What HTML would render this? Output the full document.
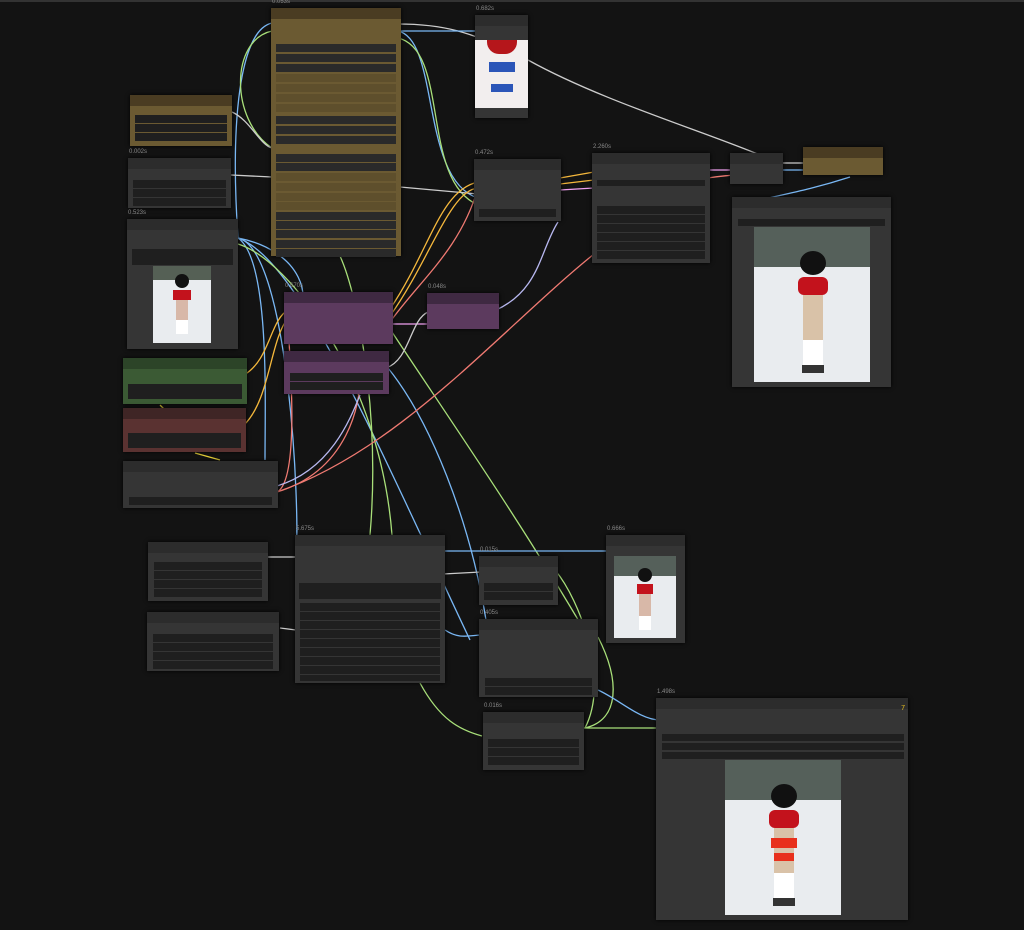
<!DOCTYPE html>
<html><head><meta charset="utf-8"><style>
body{margin:0;width:1024px;height:930px;background:#131313;position:relative;overflow:hidden;font-family:"Liberation Sans",sans-serif}
.n{position:absolute;background:#353535;box-shadow:0 0 4px #000}
.h{position:absolute;left:0;right:0;top:0;height:11px;background:#2c2c2c}
.t{position:absolute;font-size:6px;color:#888;top:-9px;left:1px}
.w{position:absolute;background:#1f1f1f;height:8px}
.im{position:absolute;background:#e9ecef;overflow:hidden}
.top{position:absolute;left:0;top:0;width:1024px;height:2px;background:#333}
svg{position:absolute;left:0;top:0}
</style></head><body>
<div class="top"></div>
<svg width="1024" height="930" fill="none" stroke-width="1.3">
<path d="M398 24 C440 24 470 30 528 60" stroke="#ccc"/>
<path d="M528 60 C600 100 700 130 760 155" stroke="#ccc"/>
<path d="M398 31 L475 31" stroke="#7ab8f5"/>
<path d="M398 31 C440 40 420 180 478 198" stroke="#7ab8f5"/>
<path d="M398 38 C450 50 420 180 478 205" stroke="#a9e07a"/>
<path d="M272 23 C240 30 230 120 238 238" stroke="#7ab8f5"/>
<path d="M272 31 C230 40 230 120 272 148" stroke="#a9e07a"/>
<path d="M232 112 C250 120 260 145 272 148" stroke="#ccc"/>
<path d="M231 175 L272 177" stroke="#ccc"/>
<path d="M400 187 L478 194" stroke="#ccc"/>
<path d="M238 238 C300 250 320 300 288 330" stroke="#7ab8f5"/>
<path d="M238 238 C300 260 380 450 470 640" stroke="#7ab8f5"/>
<path d="M238 238 C270 260 265 400 265 460" stroke="#7ab8f5"/>
<path d="M238 238 C290 250 300 520 296 550" stroke="#7ab8f5"/>
<path d="M238 244 C290 260 380 380 392 535" stroke="#a9e07a"/>
<path d="M340 256 C360 300 380 420 370 535" stroke="#a9e07a"/>
<path d="M392 332 C450 420 520 520 590 640" stroke="#a9e07a"/>
<path d="M388 368 C430 420 470 520 486 620" stroke="#7ab8f5"/>
<path d="M244 375 C270 360 270 320 288 310" stroke="#f5b83c"/>
<path d="M244 425 C270 400 270 340 288 318" stroke="#f5b83c"/>
<path d="M277 492 C300 480 290 360 288 325" stroke="#f07a72"/>
<path d="M277 492 C350 470 360 400 360 380" stroke="#f07a72"/>
<path d="M277 492 C400 450 500 330 594 254" stroke="#f07a72"/>
<path d="M277 486 C330 470 350 420 360 395" stroke="#b8b8f0"/>
<path d="M390 309 C430 250 440 190 478 182" stroke="#f5b83c"/>
<path d="M390 316 C430 260 450 190 478 188" stroke="#f5b83c"/>
<path d="M390 322 C420 280 460 250 478 188" stroke="#f07a72"/>
<path d="M390 324 L428 324" stroke="#f0a0f0"/>
<path d="M386 368 C410 360 410 320 428 312" stroke="#ccc"/>
<path d="M496 310 C540 290 540 250 558 222" stroke="#b8b8f0"/>
<path d="M560 178 L594 172" stroke="#f5b83c"/>
<path d="M560 184 L594 180" stroke="#f5b83c"/>
<path d="M560 190 L594 188" stroke="#f0a0f0"/>
<path d="M708 170 L733 170" stroke="#f0a0f0"/>
<path d="M708 178 C720 176 725 176 733 175" stroke="#f07a72"/>
<path d="M783 163 L806 163" stroke="#ccc"/>
<path d="M783 170 L806 170" stroke="#7ab8f5"/>
<path d="M850 177 C810 190 780 195 760 200" stroke="#7ab8f5"/>
<path d="M443 551 L609 551" stroke="#7ab8f5"/>
<path d="M443 574 L481 572" stroke="#ccc"/>
<path d="M268 557 L297 557" stroke="#ccc"/>
<path d="M280 628 L296 630" stroke="#ccc"/>
<path d="M445 630 C460 640 470 635 482 635" stroke="#7ab8f5"/>
<path d="M420 683 C440 720 460 730 482 736" stroke="#a9e07a"/>
<path d="M555 570 C580 600 610 680 585 728" stroke="#a9e07a"/>
<path d="M598 637 C620 680 620 720 585 728" stroke="#a9e07a"/>
<path d="M584 728 L660 728" stroke="#a9e07a"/>
<path d="M598 690 C620 700 640 720 660 720" stroke="#7ab8f5"/>
<path d="M160 405 L165 410" stroke="#e8d23a"/>
<path d="M195 453 L220 460" stroke="#e8d23a"/>
</svg>

<!-- big brown -->
<div class="n" style="left:271px;top:8px;width:130px;height:248px;background:#6b5a32"><div class="h" style="background:#4a3c22"></div><div class="t">0.053s</div>
<div class="w" style="left:5px;right:5px;top:36px;background:#2a2a2a"></div><div class="w" style="left:5px;right:5px;top:46px;background:#2a2a2a"></div><div class="w" style="left:5px;right:5px;top:56px;background:#2a2a2a"></div>
<div class="w" style="left:5px;right:5px;top:66px;background:#5e4f2c"></div><div class="w" style="left:5px;right:5px;top:76px;background:#5e4f2c"></div><div class="w" style="left:5px;right:5px;top:86px;background:#5e4f2c"></div><div class="w" style="left:5px;right:5px;top:96px;background:#5e4f2c"></div>
<div class="w" style="left:5px;right:5px;top:108px;background:#2a2a2a"></div><div class="w" style="left:5px;right:5px;top:118px;background:#2a2a2a"></div><div class="w" style="left:5px;right:5px;top:128px;background:#2a2a2a"></div>
<div class="w" style="left:5px;right:5px;top:146px;background:#2a2a2a"></div><div class="w" style="left:5px;right:5px;top:155px;background:#2a2a2a"></div>
<div class="w" style="left:5px;right:5px;top:165px;background:#5e4f2c"></div><div class="w" style="left:5px;right:5px;top:175px;background:#5e4f2c"></div><div class="w" style="left:5px;right:5px;top:185px;background:#5e4f2c"></div><div class="w" style="left:5px;right:5px;top:194px;background:#5e4f2c"></div>
<div class="w" style="left:5px;right:5px;top:204px;background:#2a2a2a"></div><div class="w" style="left:5px;right:5px;top:213px;background:#2a2a2a"></div><div class="w" style="left:5px;right:5px;top:222px;background:#2a2a2a"></div><div class="w" style="left:5px;right:5px;top:232px;background:#2a2a2a"></div><div class="w" style="left:5px;right:5px;top:241px;background:#2a2a2a"></div>
</div>
<!-- top image -->
<div class="n" style="left:475px;top:15px;width:53px;height:103px"><div class="h"></div><div class="t">0.682s</div>
<div class="im" style="left:0;top:25px;width:53px;height:68px;background:#f2eeee"><div style="position:absolute;left:12px;top:0;width:30px;height:14px;background:#b5161b;border-radius:0 0 12px 12px"></div><div style="position:absolute;left:14px;top:22px;width:26px;height:10px;background:#2b55b8"></div><div style="position:absolute;left:16px;top:44px;width:22px;height:8px;background:#2b55b8"></div></div></div>
<!-- small brown -->
<div class="n" style="left:130px;top:95px;width:102px;height:51px;background:#6b5a32"><div class="h" style="background:#4a3c22"></div>
<div class="w" style="left:5px;right:5px;top:20px"></div><div class="w" style="left:5px;right:5px;top:29px"></div><div class="w" style="left:5px;right:5px;top:38px"></div></div>
<div class="n" style="left:128px;top:158px;width:103px;height:50px"><div class="h"></div><div class="t">0.002s</div>
<div class="w" style="left:5px;right:5px;top:22px"></div><div class="w" style="left:5px;right:5px;top:31px"></div><div class="w" style="left:5px;right:5px;top:40px"></div></div>
<div class="n" style="left:127px;top:219px;width:111px;height:130px"><div class="h"></div><div class="t">0.523s</div>
<div class="w" style="left:5px;right:5px;top:30px"></div><div class="w" style="left:5px;right:5px;top:38px"></div>
<div class="im" style="left:26px;top:47px;width:58px;height:77px"><div style="position:absolute;left:0;top:0;width:58px;height:14px;background:#556055"></div><div style="position:absolute;left:22px;top:8px;width:14px;height:14px;border-radius:50%;background:#111"></div><div style="position:absolute;left:20px;top:24px;width:18px;height:10px;background:#c3121c"></div><div style="position:absolute;left:23px;top:34px;width:12px;height:20px;background:#d8b8a8"></div><div style="position:absolute;left:23px;top:54px;width:12px;height:14px;background:#fff"></div></div></div>
<!-- green/red -->
<div class="n" style="left:123px;top:358px;width:124px;height:46px;background:#3b5a34"><div class="h" style="background:#2c4428"></div><div class="w" style="left:5px;right:5px;top:26px;height:15px"></div></div>
<div class="n" style="left:123px;top:408px;width:123px;height:44px;background:#5a3231"><div class="h" style="background:#3f2525"></div><div class="w" style="left:5px;right:5px;top:25px;height:15px"></div></div>
<div class="n" style="left:123px;top:461px;width:155px;height:47px"><div class="h"></div><div class="w" style="left:6px;right:6px;top:36px"></div></div>
<!-- purple -->
<div class="n" style="left:284px;top:292px;width:109px;height:52px;background:#5c3a5e"><div class="h" style="background:#3f2942"></div><div class="t">0.670s</div></div>
<div class="n" style="left:284px;top:351px;width:105px;height:43px;background:#5c3a5e"><div class="h" style="background:#3f2942"></div><div class="w" style="left:6px;right:6px;top:22px"></div><div class="w" style="left:6px;right:6px;top:31px"></div></div>
<div class="n" style="left:427px;top:293px;width:72px;height:36px;background:#5c3a5e"><div class="h" style="background:#3f2942"></div><div class="t">0.048s</div></div>
<!-- mid -->
<div class="n" style="left:474px;top:159px;width:87px;height:62px"><div class="h"></div><div class="t">0.472s</div><div class="w" style="left:5px;right:5px;top:50px"></div></div>
<div class="n" style="left:592px;top:153px;width:118px;height:110px"><div class="h"></div><div class="t">2.260s</div>
<div class="w" style="left:5px;right:5px;top:27px;height:6px"></div><div class="w" style="left:5px;right:5px;top:53px"></div><div class="w" style="left:5px;right:5px;top:62px"></div><div class="w" style="left:5px;right:5px;top:71px"></div><div class="w" style="left:5px;right:5px;top:80px"></div><div class="w" style="left:5px;right:5px;top:89px"></div><div class="w" style="left:5px;right:5px;top:98px"></div></div>
<div class="n" style="left:730px;top:153px;width:53px;height:31px"><div class="h"></div></div>
<div class="n" style="left:803px;top:147px;width:80px;height:28px;background:#6b5a32"><div class="h" style="background:#4a3c22"></div></div>
<div class="n" style="left:732px;top:197px;width:159px;height:190px"><div class="h"></div><div class="w" style="left:6px;right:6px;top:22px;height:7px"></div>
<div class="im" style="left:22px;top:30px;width:116px;height:155px"><div style="position:absolute;left:0;top:0;width:116px;height:40px;background:#55605a"></div><div style="position:absolute;left:46px;top:24px;width:26px;height:24px;border-radius:50%;background:#111"></div><div style="position:absolute;left:44px;top:50px;width:30px;height:18px;background:#c3121c;border-radius:6px"></div><div style="position:absolute;left:49px;top:68px;width:20px;height:45px;background:#d9c2a8"></div><div style="position:absolute;left:49px;top:113px;width:20px;height:25px;background:#fff"></div><div style="position:absolute;left:48px;top:138px;width:22px;height:8px;background:#333"></div></div></div>
<!-- bottom -->
<div class="n" style="left:148px;top:542px;width:120px;height:59px"><div class="h"></div><div class="w" style="left:6px;right:6px;top:20px"></div><div class="w" style="left:6px;right:6px;top:29px"></div><div class="w" style="left:6px;right:6px;top:38px"></div><div class="w" style="left:6px;right:6px;top:47px"></div></div>
<div class="n" style="left:147px;top:612px;width:132px;height:59px"><div class="h"></div><div class="w" style="left:6px;right:6px;top:22px"></div><div class="w" style="left:6px;right:6px;top:31px"></div><div class="w" style="left:6px;right:6px;top:40px"></div><div class="w" style="left:6px;right:6px;top:49px"></div></div>
<div class="n" style="left:295px;top:535px;width:150px;height:148px"><div class="h"></div><div class="t">5.675s</div>
<div class="w" style="left:4px;right:4px;top:48px;height:16px"></div>
<div class="w" style="left:5px;right:5px;top:68px"></div><div class="w" style="left:5px;right:5px;top:77px"></div><div class="w" style="left:5px;right:5px;top:86px"></div><div class="w" style="left:5px;right:5px;top:95px"></div><div class="w" style="left:5px;right:5px;top:104px"></div><div class="w" style="left:5px;right:5px;top:113px"></div><div class="w" style="left:5px;right:5px;top:122px"></div><div class="w" style="left:5px;right:5px;top:131px"></div><div class="w" style="left:5px;right:5px;top:140px;height:6px"></div></div>
<div class="n" style="left:479px;top:556px;width:79px;height:49px"><div class="h"></div><div class="t">0.015s</div><div class="w" style="left:5px;right:5px;top:27px"></div><div class="w" style="left:5px;right:5px;top:36px"></div></div>
<div class="n" style="left:479px;top:619px;width:119px;height:78px"><div class="h"></div><div class="t">0.405s</div><div class="w" style="left:6px;right:6px;top:59px"></div><div class="w" style="left:6px;right:6px;top:68px"></div></div>
<div class="n" style="left:606px;top:535px;width:79px;height:108px"><div class="h"></div><div class="t">0.666s</div>
<div class="im" style="left:8px;top:21px;width:62px;height:82px"><div style="position:absolute;left:0;top:0;width:62px;height:20px;background:#55605a"></div><div style="position:absolute;left:24px;top:12px;width:14px;height:14px;border-radius:50%;background:#111"></div><div style="position:absolute;left:23px;top:28px;width:16px;height:10px;background:#c3121c"></div><div style="position:absolute;left:25px;top:38px;width:12px;height:22px;background:#d8b8a8"></div><div style="position:absolute;left:25px;top:60px;width:12px;height:14px;background:#fff"></div></div></div>
<div class="n" style="left:483px;top:712px;width:101px;height:58px"><div class="h"></div><div class="t">0.016s</div><div class="w" style="left:5px;right:5px;top:27px"></div><div class="w" style="left:5px;right:5px;top:36px"></div><div class="w" style="left:5px;right:5px;top:45px"></div></div>
<div class="n" style="left:656px;top:698px;width:252px;height:222px"><div class="h"></div><div class="t">1.498s</div>
<div style="position:absolute;right:3px;top:7px;font-size:7px;color:#e8c020">7</div>
<div class="w" style="left:6px;right:4px;top:36px;height:7px"></div><div class="w" style="left:6px;right:4px;top:45px;height:7px"></div><div class="w" style="left:6px;right:4px;top:54px;height:7px"></div>
<div class="im" style="left:69px;top:62px;width:116px;height:155px"><div style="position:absolute;left:0;top:0;width:116px;height:40px;background:#55605a"></div><div style="position:absolute;left:46px;top:24px;width:26px;height:24px;border-radius:50%;background:#111"></div><div style="position:absolute;left:44px;top:50px;width:30px;height:18px;background:#c3121c;border-radius:6px"></div><div style="position:absolute;left:49px;top:68px;width:20px;height:45px;background:#d9c2a8"></div><div style="position:absolute;left:46px;top:78px;width:26px;height:10px;background:#e8301c"></div><div style="position:absolute;left:49px;top:93px;width:20px;height:8px;background:#e8301c"></div><div style="position:absolute;left:49px;top:113px;width:20px;height:25px;background:#fff"></div><div style="position:absolute;left:48px;top:138px;width:22px;height:8px;background:#333"></div></div></div>
</body></html>
